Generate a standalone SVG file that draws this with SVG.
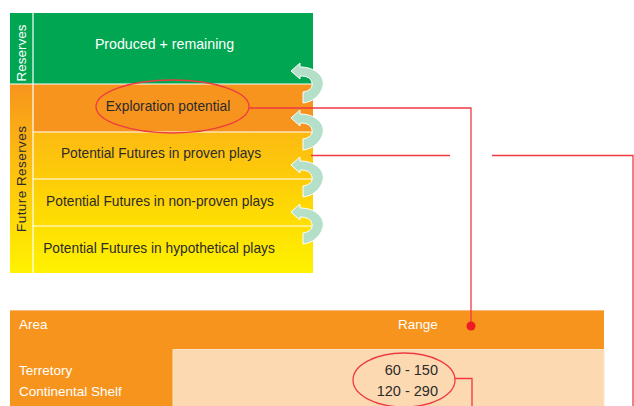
<svg xmlns="http://www.w3.org/2000/svg" width="634" height="406" viewBox="0 0 634 406">
<defs>
<linearGradient id="gFut" x1="0" y1="0" x2="0" y2="1">
<stop offset="0" stop-color="#f7941d"/>
<stop offset="0.45" stop-color="#fdc10f"/>
<stop offset="1" stop-color="#fff200"/>
</linearGradient>
<linearGradient id="gRows" x1="0" y1="0" x2="0" y2="1">
<stop offset="0" stop-color="#fcba12"/>
<stop offset="0.5" stop-color="#fed604"/>
<stop offset="1" stop-color="#fff200"/>
</linearGradient>
<style>
text{font-family:"Liberation Sans",Arial,sans-serif;font-size:13.75px}
.w{fill:#ffffff}
.d{fill:#2b2b2b}
.v{font-size:13.5px}
.t{font-size:13.5px}
.n{font-size:14.5px}
.sep{stroke:#ffffff;stroke-width:1.2;fill:none}
.red{stroke:#ee3a43;stroke-width:1.3;fill:none}
.arr{fill:#b4dfc8;stroke:#ffffff;stroke-width:1}
</style>
</defs>
<rect width="634" height="406" fill="#ffffff"/>

<g id="band-reserves">
<rect x="10" y="13" width="23" height="71" fill="#00a651"/>
<text class="w v" transform="translate(26,53) rotate(-90)" text-anchor="middle">Reserves</text>
</g>
<g id="band-future">
<rect x="10" y="84" width="23" height="189" fill="url(#gFut)"/>
<text class="d v" transform="translate(26,179) rotate(-90)" text-anchor="middle" textLength="106">Future Reserves</text>
</g>

<g id="row-produced">
<rect x="33" y="13" width="280" height="71" fill="#00a651"/>
<text class="w" x="164.5" y="49" text-anchor="middle" style="font-size:14.2px">Produced + remaining</text>
</g>
<g id="row-exploration">
<rect x="33" y="84" width="280" height="48" fill="#f7941d"/>
<text class="d" x="168" y="111" text-anchor="middle">Exploration potential</text>
</g>
<rect x="33" y="132" width="280" height="141" fill="url(#gRows)"/>
<g id="row-proven">
<text class="d" x="161" y="158" text-anchor="middle">Potential Futures in proven plays</text>
</g>
<g id="row-nonproven">
<text class="d" x="160" y="206" text-anchor="middle">Potential Futures in non-proven plays</text>
</g>
<g id="row-hypothetical">
<text class="d" x="159" y="253" text-anchor="middle">Potential Futures in hypothetical plays</text>
</g>
<g id="dividers">
<line class="sep" x1="33" y1="13" x2="33" y2="273"/>
<line class="sep" x1="10" y1="84" x2="313" y2="84"/>
<line class="sep" x1="33" y1="132" x2="313" y2="132"/>
<line class="sep" x1="33" y1="179" x2="313" y2="179"/>
<line class="sep" x1="33" y1="226" x2="313" y2="226"/>
</g>

<g id="table">
<rect x="10" y="310" width="594" height="96" fill="#f7941d"/>
<line x1="10" y1="310.5" x2="604" y2="310.5" stroke="#fbb877" stroke-width="1"/>
<rect x="173" y="349.5" width="431" height="57" fill="#fdd9b1" stroke="#fde4c8" stroke-width="1"/>
<text class="w t" x="19" y="329">Area</text>
<text class="w t" x="398" y="329">Range</text>
<text class="w t" x="19" y="375">Terretory</text>
<text class="w t" x="19" y="396">Continental Shelf</text>
<text class="d n" x="438" y="375" text-anchor="end">60 - 150</text>
<text class="d n" x="438" y="396" text-anchor="end">120 - 290</text>
</g>

<g id="connectors">
<path class="arr" d="M291 71 L300 63 L300 67 C316 67 325 77 323 86 C321 95 313 102 303 103 L303 92 C310 91 313 87 312 83 C311 78 307 76 300 76 L300 79 Z"/>
<path class="arr" d="M291 118 L300 110 L300 114 C316 114 325 124 323 133 C321 142 313 149 303 150 L303 139 C310 138 313 134 312 130 C311 125 307 123 300 123 L300 126 Z"/>
<path class="arr" d="M291 165 L300 157 L300 161 C316 161 325 171 323 180 C321 189 313 196 303 197 L303 186 C310 185 313 181 312 177 C311 172 307 170 300 170 L300 173 Z"/>
<path class="arr" d="M291 212 L300 204 L300 208 C316 208 325 218 323 227 C321 236 313 243 303 244 L303 233 C310 232 313 228 312 224 C311 219 307 217 300 217 L300 220 Z"/>
<ellipse class="red" cx="172.5" cy="106.5" rx="76.5" ry="26.5"/>
<polyline class="red" points="249,108 471,108 471,324"/>
<circle cx="471" cy="326" r="4.5" fill="#ed1c24"/>
<line class="red" x1="311" y1="155.5" x2="450" y2="155.5"/>
<polyline class="red" points="492,155.5 633,155.5 633,406"/>
<ellipse class="red" cx="404" cy="380" rx="51" ry="27"/>
<polyline class="red" points="455,378.5 472,378.5 472,406"/>
</g>
</svg>
